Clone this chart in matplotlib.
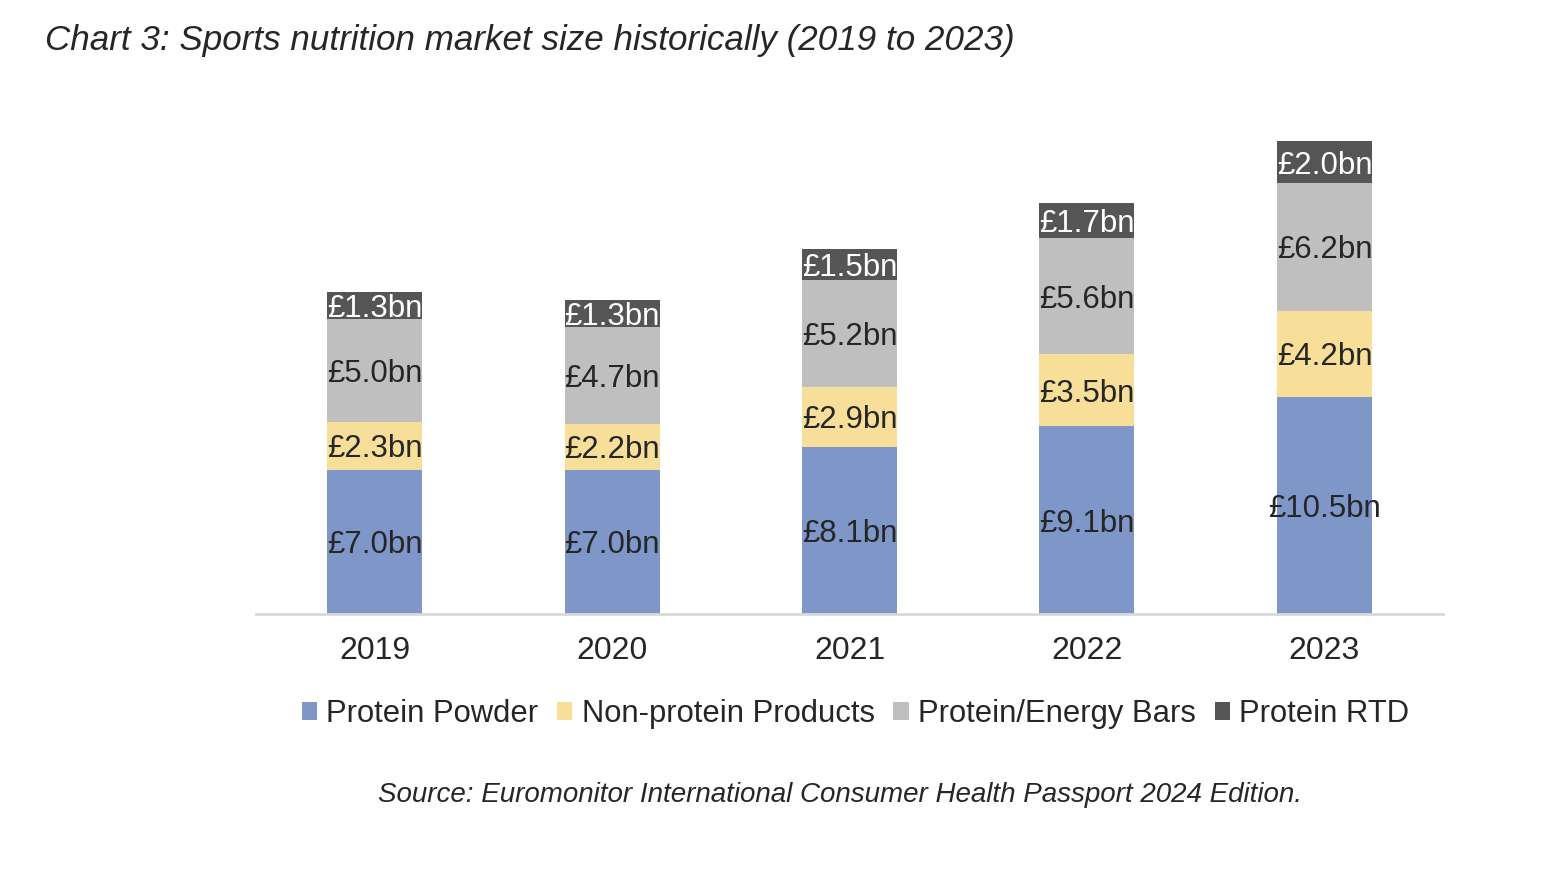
import matplotlib.pyplot as plt
import numpy as np

plt.rcParams['font.family'] = ['Liberation Sans', 'DejaVu Sans']

years = ['2019', '2020', '2021', '2022', '2023']
protein_powder = [7.0, 7.0, 8.1, 9.1, 10.5]
non_protein = [2.3, 2.2, 2.9, 3.5, 4.2]
bars = [5.0, 4.7, 5.2, 5.6, 6.2]
protein_rtd = [1.3, 1.3, 1.5, 1.7, 2.0]

series_names = ['Protein Powder', 'Non-protein Products', 'Protein/Energy Bars', 'Protein RTD']
colors = ['#7F96C8', '#F7DF9A', '#BFBFBF', '#555555']
label_colors = ['#262626', '#262626', '#262626', 'white']

fig = plt.figure(figsize=(15.64, 8.76), dpi=100)
ax = fig.add_axes([0.1637, 0.2991, 0.759, 0.589])

x = np.arange(len(years))
bottom = np.zeros(len(years))
for name, vals, col, lc in zip(series_names, [protein_powder, non_protein, bars, protein_rtd], colors, label_colors):
    vals = np.array(vals)
    ax.bar(x, vals, width=0.4, bottom=bottom, color=col, label=name)
    for xi, b, v in zip(x, bottom, vals):
        ax.text(xi, b + v / 2, f'£{v:.1f}bn', ha='center', va='center_baseline',
                fontsize=22.5, color=lc)
    bottom += vals

ax.set_xlim(-0.5, 4.5)
ax.set_ylim(0, 25)
ax.set_yticks([])
ax.set_xticks(x)
ax.set_xticklabels(years, fontsize=23, color='#262626')
ax.tick_params(axis='x', length=0, pad=16)
for s in ['top', 'right', 'left']:
    ax.spines[s].set_visible(False)
ax.spines['bottom'].set_color('#D9D9D9')
ax.spines['bottom'].set_linewidth(2)

fig.legend(loc='center', bbox_to_anchor=(0.547, 0.185), ncol=4, frameon=False,
           fontsize=22.3, handlelength=0.5, handleheight=0.5, handletextpad=0.3,
           columnspacing=0.6, labelcolor='#262626')

fig.text(0.029, 0.954, 'Chart 3: Sports nutrition market size historically (2019 to 2023)',
         fontsize=25.2, style='italic', color='#262626', va='center')
fig.text(0.537, 0.093, 'Source: Euromonitor International Consumer Health Passport 2024 Edition.',
         fontsize=20, style='italic', color='#262626', ha='center', va='center')

fig.savefig('out.png', dpi=100)
